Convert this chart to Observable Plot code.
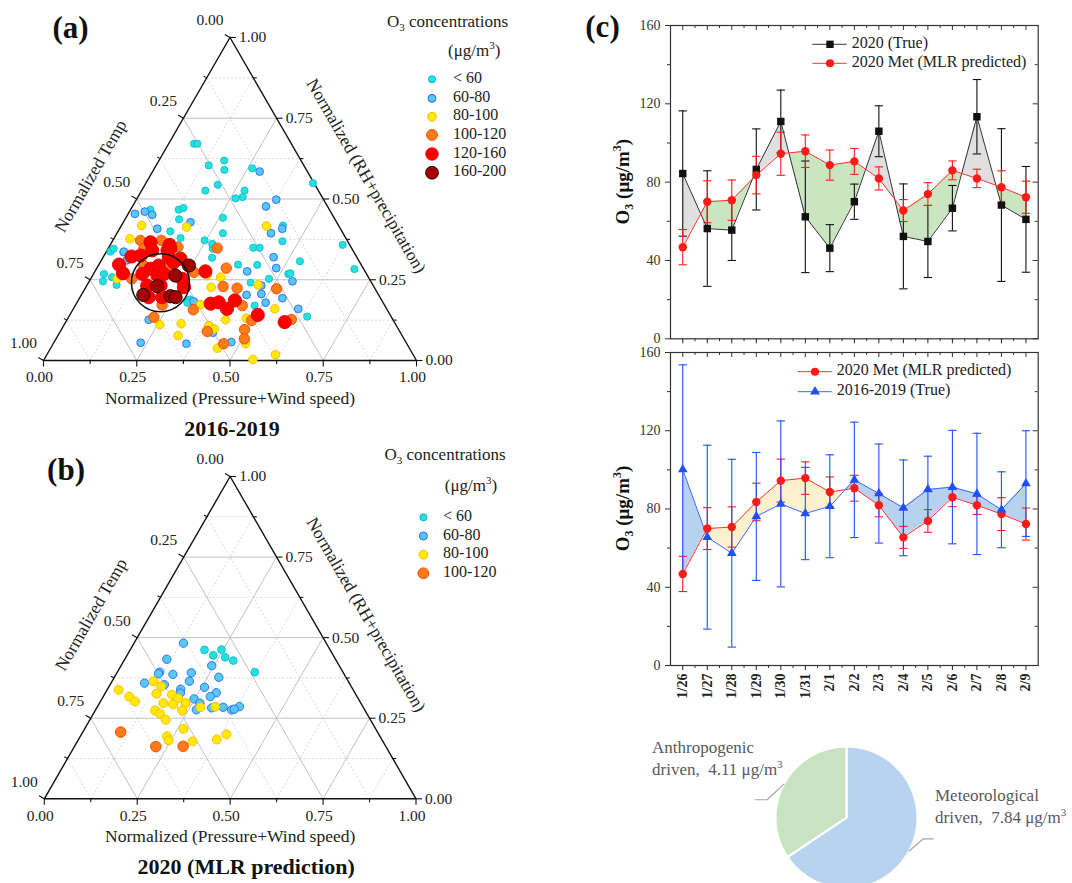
<!DOCTYPE html>
<html><head><meta charset="utf-8">
<script src="https://cdn.jsdelivr.net/npm/d3@7"></script>
<script src="https://cdn.jsdelivr.net/npm/@observablehq/plot@0.6"></script>
<style>
body{margin:0;background:#fff;}
#root{position:relative;width:1072px;height:883px;overflow:hidden;background:#fff;font-family:'Liberation Serif','Times New Roman',serif;}
</style></head><body><div id="root"></div>
<script>
// ---------------- DATA ----------------
// Ternary (a) 2016-2019: [normalized pressure+wind, normalized RH+precipitation]; temp = 1 - P - RH
const concLabels = ["< 60", "60-80", "80-100", "100-120", "120-160", "160-200"];
const a_lt60 = [[0.068,0.671],[0.077,0.671],[0.141,0.604],[0.175,0.619],[0.190,0.590],[0.262,0.595],[0.195,0.544],[0.171,0.526],[0.276,0.526],[0.281,0.506],[0.264,0.502],[0.448,0.549],[0.053,0.467],[0.129,0.467],[0.139,0.472],[0.145,0.437],[0.140,0.400],[0.260,0.442],[0.284,0.394],[0.178,0.379],[0.246,0.372],[0.281,0.346],[0.011,0.337],[0.015,0.346],[0.046,0.335],[0.028,0.268],[0.037,0.245],[0.079,0.234],[0.055,0.258],[0.456,0.369],[0.272,0.361],[0.388,0.349],[0.405,0.349],[0.293,0.318],[0.534,0.307],[0.373,0.297],[0.425,0.296],[0.522,0.268],[0.527,0.270],[0.478,0.253],[0.435,0.241],[0.481,0.170],[0.639,0.136],[0.623,0.358],[0.692,0.283],[0.298,0.189],[0.296,0.179],[0.433,0.418]];
const a_60_80 = [[0.018,0.454],[0.041,0.461],[0.066,0.451],[0.180,0.428],[0.101,0.408],[0.287,0.585],[0.375,0.498],[0.358,0.477],[0.436,0.408],[0.413,0.394],[0.047,0.337],[0.457,0.320],[0.408,0.276],[0.481,0.286],[0.545,0.245],[0.468,0.232],[0.481,0.206],[0.443,0.203],[0.544,0.193],[0.506,0.179],[0.603,0.160],[0.219,0.126],[0.233,0.055],[0.357,0.052],[0.411,0.086],[0.475,0.057],[0.311,0.183],[0.068,0.310]];
const a_80_100 = [[0.054,0.418],[0.177,0.413],[0.390,0.416],[0.043,0.377],[0.071,0.253],[0.307,0.263],[0.336,0.227],[0.334,0.173],[0.256,0.111],[0.312,0.114],[0.389,0.108],[0.322,0.077],[0.346,0.258],[0.458,0.234],[0.540,0.160],[0.478,0.131],[0.425,0.126],[0.516,0.052],[0.447,0.038],[0.613,0.018],[0.560,0.003],[0.409,0.098]];
const a_100_120 = [[0.074,0.372],[0.096,0.346],[0.130,0.372],[0.185,0.351],[0.110,0.253],[0.267,0.273],[0.323,0.157],[0.229,0.134],[0.394,0.090],[0.292,0.348],[0.347,0.286],[0.367,0.229],[0.407,0.224],[0.514,0.222],[0.448,0.170],[0.496,0.124],[0.601,0.127],[0.491,0.096],[0.505,0.067],[0.457,0.052],[0.232,0.172],[0.122,0.294],[0.187,0.289]];
const a_120_160 = [[0.104,0.366],[0.121,0.341],[0.162,0.341],[0.159,0.358],[0.075,0.322],[0.054,0.297],[0.078,0.270],[0.131,0.268],[0.145,0.284],[0.162,0.294],[0.176,0.320],[0.197,0.304],[0.210,0.315],[0.174,0.263],[0.162,0.232],[0.198,0.232],[0.245,0.253],[0.263,0.227],[0.184,0.196],[0.220,0.196],[0.296,0.276],[0.360,0.176],[0.380,0.180],[0.420,0.186],[0.412,0.160],[0.504,0.141],[0.587,0.119],[0.167,0.346],[0.189,0.268],[0.098,0.325]];
const a_160_200 = [[0.243,0.294],[0.222,0.263],[0.190,0.230],[0.166,0.203],[0.241,0.199],[0.256,0.196]];
const a_highlight = [[0.193,0.241]];

// Ternary (b) 2020 MLR prediction
const b_lt60 = [[0.200,0.462],[0.232,0.445],[0.245,0.463],[0.267,0.439],[0.294,0.429],[0.370,0.393]];
const b_60_80 = [[0.133,0.483],[0.113,0.433],[0.114,0.393],[0.113,0.388],[0.153,0.386],[0.200,0.391],[0.244,0.413],[0.281,0.377],[0.208,0.365],[0.090,0.359],[0.146,0.354],[0.197,0.340],[0.202,0.328],[0.258,0.346],[0.298,0.329],[0.288,0.317],[0.248,0.310],[0.270,0.297],[0.271,0.276],[0.309,0.282],[0.339,0.284],[0.366,0.276],[0.382,0.286],[0.372,0.278]];
const b_80_100 = [[0.031,0.338],[0.070,0.317],[0.093,0.302],[0.111,0.365],[0.140,0.349],[0.139,0.326],[0.182,0.323],[0.204,0.312],[0.172,0.297],[0.200,0.293],[0.232,0.297],[0.234,0.274],[0.161,0.274],[0.179,0.264],[0.204,0.245],[0.278,0.284],[0.317,0.286],[0.266,0.217],[0.233,0.194],[0.244,0.181],[0.310,0.178],[0.372,0.184],[0.390,0.200]];
const b_100_120 = [[0.102,0.207],[0.219,0.162],[0.292,0.163]];

// Panel (c) time series
const dates = ["1/26","1/27","1/28","1/29","1/30","1/31","2/1","2/2","2/3","2/4","2/5","2/6","2/7","2/8","2/9"];
const true2020 = [84.4,56.3,55.5,86.5,111.0,62.3,46.3,70.0,106.0,52.3,49.7,66.7,113.4,68.3,61.0];
const true2020Err = [32,29.5,15.5,20.7,16,28.5,12,9,13,26.8,18.4,11.6,19,39,27];
const met2020 = [46.8,70.0,70.8,83.6,94.5,95.8,88.7,90.6,81.9,65.5,73.9,86.0,81.9,77.4,72.3];
const met2020Err = [9,10.7,10.3,9.6,11,8.3,7.7,6.6,5.9,5.6,5.8,4.8,4.7,8.4,8.2];
const obs1619 = [100.2,65.6,57.4,76.2,82.6,77.7,81.4,94.9,87.9,80.6,90.0,91.2,87.7,79.6,93.0];
const obs1619Err = [53.5,47,48,32.7,42.4,23.6,26.3,29.5,25.3,24.5,17,29,31,19.4,27];
const yTicks = [0, 40, 80, 120, 160];
const yMinor = [20, 60, 100, 140];

// Pie
const pieNames = ["Meteorological", "Anthropogenic"];
const pieValues = [7.84, 4.11];

// ---------------- HELPERS ----------------
const FONT = "'Liberation Serif','Times New Roman',serif";
const root = document.getElementById("root");
function place(el, left, top) {
  el.style.position = "absolute"; el.style.left = left + "px"; el.style.top = top + "px";
  root.appendChild(el); return el;
}
const baseStyle = `font-family:${FONT};background:transparent;overflow:visible;`;
const tern = (P, RH) => ({x: P + RH / 2, y: RH});
const ternTicks = [0, 0.125, 0.25, 0.375, 0.5, 0.625, 0.75, 0.875, 1];
const ternMajor = [0, 0.25, 0.5, 0.75, 1];
const isMajor = t => ternMajor.includes(t);
const fmt2 = d3.format(".2f");
const LINK = {x1: "x1", y1: "y1", x2: "x2", y2: "y2"};

function concLegend(svg, o) {
  const g = d3.select(svg).append("g").attr("font-family", FONT).attr("fill", "#222").attr("text-anchor", "start");
  const t = g.append("text").attr("x", o.titleX).attr("y", o.titleY).attr("font-size", 17).attr("dominant-baseline", "middle");
  t.append("tspan").text("O");
  t.append("tspan").attr("font-size", 11).attr("dy", 5).text("3");
  t.append("tspan").attr("dy", -5).text(" concentrations");
  const u = g.append("text").attr("x", o.subX).attr("y", o.subY).attr("font-size", 17).attr("dominant-baseline", "middle");
  u.append("tspan").text("(μg/m");
  u.append("tspan").attr("font-size", 11).attr("dy", -6).text("3");
  u.append("tspan").attr("dy", 6).text(")");
  o.cats.forEach((c, i) => {
    g.append("circle").attr("cx", o.mx).attr("cy", o.rows[i]).attr("r", c.r)
      .attr("fill", c.fill).attr("stroke", c.stroke).attr("stroke-width", 1);
    g.append("text").attr("x", o.tx).attr("y", o.rows[i]).attr("font-size", 16)
      .attr("dominant-baseline", "middle").text(c.label);
  });
}

function ternaryPanel(o) {
  const kx = 1 / (o.x1 - o.x0), ky = 1 / (o.yB - o.yT);
  const grid = [];
  ternTicks.filter(t => t > 0 && t < 1).forEach(t => {
    [[tern(0, t), tern(1 - t, t)], [tern(t, 0), tern(t, 1 - t)], [tern(1 - t, 0), tern(0, 1 - t)]]
      .forEach(([a, b]) => grid.push({x1: a.x, y1: a.y, x2: b.x, y2: b.y, major: isMajor(t)}));
  });
  const ticks = [];
  ternTicks.forEach(t => {
    const L = isMajor(t) ? 6 : 3.5;
    const b = tern(t, 0), r = tern(1 - t, t), l = tern(0, 1 - t);
    ticks.push({x1: b.x, y1: b.y, x2: b.x, y2: b.y - L * ky});
    ticks.push({x1: r.x, y1: r.y, x2: r.x + L * kx, y2: r.y});
    ticks.push({x1: l.x, y1: l.y, x2: l.x - 0.866 * L * kx, y2: l.y + 0.5 * L * ky});
  });
  const edge = [tern(0, 0), tern(1, 0), tern(0, 1), tern(0, 0)];
  const txt = {fill: "#222", fontSize: 15.5, text: d => fmt2(d)};
  const marks = [
    Plot.link(grid.filter(d => !d.major), {...LINK, stroke: "#d2d2d2", strokeWidth: 0.9, strokeDasharray: "2,2"}),
    Plot.link(grid.filter(d => d.major), {...LINK, stroke: "#c2c2c2", strokeWidth: 1}),
    Plot.line(edge, {x: "x", y: "y", stroke: "#111", strokeWidth: 1.4}),
    Plot.link(ticks, {...LINK, stroke: "#111", strokeWidth: 1.1}),
    Plot.text(ternMajor, {...txt, x: t => t, y: 0, dx: -4, dy: 17}),
    Plot.text(ternMajor, {...txt, x: t => 1 - t / 2, y: t => t, dx: 9, textAnchor: "start"}),
    Plot.text(ternMajor, {...txt, x: t => (1 - t) / 2, y: t => 1 - t, dx: -20, dy: -17}),
    Plot.text(["Normalized (Pressure+Wind speed)"], {x: 0.5, y: 0, dy: 38, fontSize: 17.5, fill: "#222", text: d => d}),
    Plot.text(["Normalized Temp"], {x: 0.25, y: 0.5, dx: -46, dy: -23, rotate: -60, fontSize: 17.5, fill: "#222", text: d => d}),
    Plot.text(["Normalized (RH+precipitation)"], {x: 0.75, y: 0.5, dx: 43, dy: -23, rotate: 60, fontSize: 17.5, fill: "#222", text: d => d}),
    Plot.text([o.title], {x: 0.5, y: 0, dy: 68, dx: o.titleDx, fontSize: 22, fontWeight: "bold", fill: "#111", text: d => d}),
    Plot.text([o.panel], {frameAnchor: "top-left", dx: o.panelX, dy: o.panelY, textAnchor: "middle", lineAnchor: "middle", fontSize: 31, fontWeight: "bold", fill: "#111", text: d => d}),
    ...o.cats.map(c => Plot.dot(c.data, {x: d => d[0] + d[1] / 2, y: d => d[1], r: c.r, fill: c.fill, stroke: c.stroke, strokeWidth: 0.9})),
  ];
  if (o.highlight) marks.push(Plot.dot(o.highlight, {x: d => d[0] + d[1] / 2, y: d => d[1], r: 29, fill: "none", stroke: "#111", strokeWidth: 1.5}));
  const svg = Plot.plot({
    width: o.width, height: o.height, marginTop: 0, marginRight: 0, marginBottom: 0, marginLeft: 0,
    x: {domain: [0, 1], range: [o.x0, o.x1], axis: null},
    y: {domain: [0, 1], range: [o.yB, o.yT], axis: null},
    style: baseStyle, marks
  });
  concLegend(svg, o.legend);
  return svg;
}

const styleA = [
  {fill: "#22e1e1", stroke: "#15bccb", r: 3.6},
  {fill: "#55c8f5", stroke: "#2f68f0", r: 3.9},
  {fill: "#ffea00", stroke: "#ffb400", r: 4.3},
  {fill: "#ff7b1a", stroke: "#f24a00", r: 5.2},
  {fill: "#fc0000", stroke: "#e00000", r: 6.6},
  {fill: "#a30000", stroke: "#1a0000", r: 6.6}
];
const catsA = [a_lt60, a_60_80, a_80_100, a_100_120, a_120_160, a_160_200].map((data, i) => ({data, label: concLabels[i], ...styleA[i]}));
const catsB = [b_lt60, b_60_80, b_80_100, b_100_120].map((data, i) => ({data, label: concLabels[i], ...styleA[i], r: [3.9, 4.2, 4.5, 5.3][i]}));

place(ternaryPanel({
  width: 560, height: 440, x0: 43, x1: 416, yB: 360, yT: 37,
  title: "2016-2019", titleDx: 2, panel: "(a)", panelX: 70, panelY: 28,
  cats: catsA, highlight: a_highlight,
  legend: {titleX: 387, titleY: 23, subX: 448, subY: 52, mx: 432, tx: 453,
           rows: [79.3, 98.3, 116.7, 135, 154, 172.7],
           cats: catsA.map((c, i) => ({...c, r: [3.6, 4, 4.4, 5.4, 6.2, 6.4][i]}))}
}), 0, 0);

place(ternaryPanel({
  width: 560, height: 443, x0: 43.8, x1: 415.5, yB: 358.3, yT: 36,
  title: "2020 (MLR prediction)", titleDx: 16, panel: "(b)", panelX: 65.5, panelY: 30,
  cats: catsB, highlight: null,
  legend: {titleX: 384.5, titleY: 16, subX: 444.8, subY: 46.7, mx: 423.4, tx: 443.1,
           rows: [77.3, 96, 114.7, 133.3],
           cats: catsB.map((c, i) => ({...c, r: [3.6, 4, 4.4, 5.4][i]}))}
}), 0, 440);

// ---------------- Line charts ----------------
function diffRuns(a, b) {
  const runs = []; let cur = null;
  const sgn = v => (v >= 0 ? 1 : -1);
  for (let i = 0; i < a.length; i++) {
    const d = a[i] - b[i], s = sgn(d);
    if (!cur) { cur = {s, pts: []}; runs.push(cur); }
    else if (s !== cur.s) {
      const dp = a[i - 1] - b[i - 1], t = dp / (dp - d);
      const xc = i - 1 + t, yc = a[i - 1] + t * (a[i] - a[i - 1]);
      cur.pts.push({x: xc, a: yc, b: yc});
      cur = {s, pts: [{x: xc, a: yc, b: yc}]}; runs.push(cur);
    }
    cur.pts.push({x: i, a: a[i], b: b[i]});
  }
  return runs.flatMap((r, k) => r.pts.map(p => ({...p, run: k, s: r.s})));
}

function seriesMarks(v, e, st) {
  const idx = d3.range(v.length);
  const cap = 0.17;
  const caps = idx.flatMap(i => [v[i] - e[i], v[i] + e[i]].map(y => ({i, y})));
  return {
    bars: [
      Plot.ruleX(idx, {x: i => i, y1: i => v[i] - e[i], y2: i => v[i] + e[i], stroke: st.color, strokeWidth: 1.1}),
      Plot.link(caps, {x1: d => d.i - cap, x2: d => d.i + cap, y1: "y", y2: "y", stroke: st.color, strokeWidth: 1.1})
    ],
    line: Plot.line(idx, {x: i => i, y: i => v[i], stroke: st.line, strokeWidth: 1}),
    dots: Plot.dot(idx, {x: i => i, y: i => v[i], symbol: st.symbol, r: st.r, fill: st.color})
  };
}

const stTrue = {color: "#111", line: "#333", symbol: "square", r: 4.2, legendSize: 54};
const stMet = {color: "#ff1a1a", line: "#ff3030", symbol: "circle", r: 4.2, legendSize: 52};
const stObs = {color: "#1f4fff", line: "#3a66ff", symbol: "triangle", r: 3.6, legendSize: 44};

function lineChart(o) {
  const W = 512, mL = 110, mR = 34.3;
  const frameW = W - mL - mR, frameH = o.height - o.mT - o.mB;
  const pts = diffRuns(o.A, o.B);
  const sA = seriesMarks(o.A, o.Aerr, o.stA), sB = seriesMarks(o.B, o.Berr, o.stB);
  const xMajor = d3.range(dates.length), xMinor = d3.range(dates.length - 1).map(i => i + 0.5);
  const marks = [
    Plot.areaY(pts.filter(p => p.s > 0), {x: "x", y1: "a", y2: "b", z: "run", fill: o.fillPos}),
    Plot.areaY(pts.filter(p => p.s < 0), {x: "x", y1: "a", y2: "b", z: "run", fill: o.fillNeg}),
    ...(o.barsFirst === "B" ? [...sB.bars, ...sA.bars] : [...sA.bars, ...sB.bars]),
    sA.line, sB.line,
    ...(o.dotsFirst === "B" ? [sB.dots, sA.dots] : [sA.dots, sB.dots]),
    Plot.frame({stroke: "#333", strokeWidth: 1.2}),
    Plot.axisY({ticks: yTicks, tickSize: 5, tickPadding: 5, fontSize: 14, color: "#333", label: null}),
    Plot.axisY({ticks: yMinor, tickSize: 3, tickFormat: () => "", color: "#333", label: null}),
    Plot.tickY(yTicks, {y: d => d, insetLeft: frameW - 5, stroke: "#333"}),
    Plot.tickY(yMinor, {y: d => d, insetLeft: frameW - 3, stroke: "#333"}),
    Plot.tickX(xMajor, {x: d => d, insetBottom: frameH - 5, stroke: "#333"}),
    Plot.tickX(xMinor, {x: d => d, insetBottom: frameH - 3, stroke: "#333"}),
    Plot.axisX({ticks: xMajor, tickSize: 5, tickPadding: 3, tickRotate: o.labels ? -90 : 0,
      tickFormat: o.labels ? (i => dates[i]) : (() => ""), fontSize: 14, fontWeight: "bold", color: "#222", label: null}),
    Plot.axisX({ticks: xMinor, tickSize: 3, tickFormat: () => "", color: "#333", label: null}),
  ];
  if (o.panel) marks.push(Plot.text([o.panel], {frameAnchor: "top-left", dx: -68, dy: 2, textAnchor: "middle", lineAnchor: "middle", fontSize: 31, fontWeight: "bold", fill: "#111", text: d => d}));
  const svg = Plot.plot({
    width: W, height: o.height, marginLeft: mL, marginRight: mR, marginTop: o.mT, marginBottom: o.mB,
    x: {domain: [-0.5, 14.5]}, y: {domain: [0, 160]},
    style: baseStyle, marks
  });
  const g = d3.select(svg).append("g").attr("font-family", FONT).attr("text-anchor", "start");
  // y label
  const yl = g.append("text").attr("transform", `translate(65,${o.mT + frameH / 2}) rotate(-90)`)
    .attr("text-anchor", "middle").attr("dominant-baseline", "middle")
    .attr("font-size", 19).attr("font-weight", "bold").attr("fill", "#111");
  yl.append("tspan").text("O");
  yl.append("tspan").attr("font-size", 12).attr("dy", 5).text("3");
  yl.append("tspan").attr("dy", -5).text(" (μg/m");
  yl.append("tspan").attr("font-size", 12).attr("dy", -7).text("3");
  yl.append("tspan").attr("dy", 7).text(")");
  // legend
  o.legend.items.forEach((it, k) => {
    const y = o.legend.ys[k];
    g.append("line").attr("x1", o.legend.x1).attr("x2", o.legend.x2).attr("y1", y).attr("y2", y)
      .attr("stroke", it.st.line).attr("stroke-width", 1);
    const sym = {square: d3.symbolSquare, circle: d3.symbolCircle, triangle: d3.symbolTriangle}[it.st.symbol];
    g.append("path").attr("d", d3.symbol(sym, it.st.legendSize)()).attr("transform", `translate(${o.legend.xm},${y})`)
      .attr("fill", it.st.color);
    g.append("text").attr("x", o.legend.xt).attr("y", y).attr("dominant-baseline", "middle")
      .attr("font-size", 16).attr("fill", "#222").text(it.label);
  });
  return svg;
}

place(lineChart({
  height: 345, mT: 25, mB: 6.7, A: true2020, Aerr: true2020Err, B: met2020, Berr: met2020Err,
  stA: stTrue, stB: stMet, fillPos: "#e0e0e0", fillNeg: "#c9e6c1", labels: false, panel: "(c)",
  barsFirst: "A", dotsFirst: "A",
  legend: {x1: 252.3, x2: 286.7, xm: 270, xt: 291.7, ys: [44.3, 63.3],
           items: [{st: stTrue, label: "2020 (True)"}, {st: stMet, label: "2020 Met (MLR predicted)"}]}
}), 560, 0);

place(lineChart({
  height: 380, mT: 12, mB: 55, A: obs1619, Aerr: obs1619Err, B: met2020, Berr: met2020Err,
  stA: stObs, stB: stMet, fillPos: "#b7d2ee", fillNeg: "#fdf0cf", labels: true, panel: null,
  barsFirst: "B", dotsFirst: "B",
  legend: {x1: 237.7, x2: 271.7, xm: 255, xt: 276.7, ys: [31.7, 51.7],
           items: [{st: stMet, label: "2020 Met (MLR predicted)"}, {st: stObs, label: "2016-2019 (True)"}]}
}), 560, 340);

// ---------------- Pie ----------------
const pieColors = ["#b7d3ef", "#c8e3bf"];
const arcs = d3.pie().sort(null)(pieValues);
const slicePolys = arcs.map((a, k) => {
  const n = Math.max(8, Math.ceil((a.endAngle - a.startAngle) / 0.01));
  const pts = [{x: 0, y: 0}];
  for (let j = 0; j <= n; j++) {
    const t = a.startAngle + (a.endAngle - a.startAngle) * j / n;
    pts.push({x: Math.sin(t), y: Math.cos(t)});
  }
  pts.push({x: 0, y: 0});
  return pts;
});
const R = 71;
const leaders = arcs.map((a, k) => {
  const m = (a.startAngle + a.endAngle) / 2;
  const p0 = {x: Math.sin(m), y: Math.cos(m)};
  const off = k === 0 ? [[14, 12], [10, 0]] : [[-16.7, -15.7], [-11.7, 0]];
  const p1 = {x: p0.x + off[0][0] / R, y: p0.y + off[0][1] / R};
  const p2 = {x: p1.x + off[1][0] / R, y: p1.y + off[1][1] / R};
  return [p0, p1, p2];
});
const pieSvg = Plot.plot({
  width: 432, height: 163, marginTop: 0, marginRight: 0, marginBottom: 0, marginLeft: 0,
  x: {domain: [-1, 1], range: [206 - R, 206 + R], axis: null},
  y: {domain: [-1, 1], range: [97 + R, 97 - R], axis: null},
  style: baseStyle,
  marks: [
    ...slicePolys.map((p, k) => Plot.line(p, {x: "x", y: "y", fill: pieColors[k], stroke: "white", strokeWidth: 2.2, strokeLinejoin: "miter"})),
    ...leaders.map(l => Plot.line(l, {x: "x", y: "y", stroke: "#a6a6a6", strokeWidth: 1.2}))
  ]
});
{
  const g = d3.select(pieSvg).append("g").attr("font-family", FONT).attr("fill", "#595959").attr("font-size", 17).attr("text-anchor", "start");
  const lab = [{x: 295, y: 77, k: 0}, {x: 12, y: 29, k: 1}];
  lab.forEach(L => {
    g.append("text").attr("x", L.x).attr("y", L.y).attr("dominant-baseline", "middle").text(pieNames[L.k]);
    const t = g.append("text").attr("x", L.x).attr("y", L.y + 22).attr("dominant-baseline", "middle");
    t.append("tspan").text(`driven,  ${d3.format(".2f")(pieValues[L.k])} μg/m`);
    t.append("tspan").attr("font-size", 11).attr("dy", -6).text("3");
  });
}
place(pieSvg, 640, 720);
</script></body></html>
